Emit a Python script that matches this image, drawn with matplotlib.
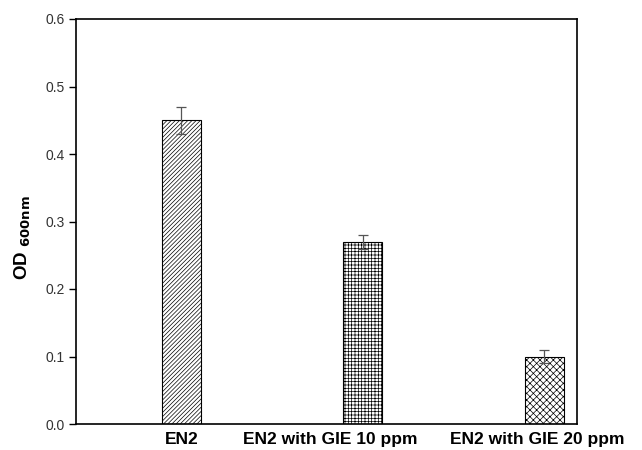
import matplotlib.pyplot as plt
import matplotlib.transforms as mtransforms

# data
categories = ["EN2", "EN2 with GIE 10 ppm", "EN2 with GIE 20 ppm"]
od600 = [0.45, 0.27, 0.10]
od600_err = [0.02, 0.01, 0.01]
hatches = ["////////", "+++++", "xxxxx"]

plt.rcParams["font.family"] = ["Liberation Sans", "DejaVu Sans"]
plt.rcParams["hatch.linewidth"] = 0.5
plt.rcParams["hatch.color"] = "#555555"

fig = plt.figure(figsize=(6.42, 4.5), dpi=100)
ax = fig.add_axes([76 / 642, 1 - 424 / 450, (577 - 76) / 642, (424 - 19) / 450])

pos = [1, 2, 3]
bars = ax.bar(pos, od600, width=0.215, color="white", edgecolor="black", linewidth=0.8)
for b, h in zip(bars, hatches):
    b.set_hatch(h)

ax.errorbar(pos, od600, yerr=od600_err, fmt="none", ecolor="#555555",
            elinewidth=0.9, capsize=3.5, capthick=0.9)

ax.set_xlim(0.42, 3.18)
ax.set_ylim(0, 0.6)
ax.set_yticks([0.0, 0.1, 0.2, 0.3, 0.4, 0.5, 0.6])
ax.set_yticklabels([f"{v:.1f}" for v in ax.get_yticks()])
ax.tick_params(axis="y", direction="out", length=5, width=1, labelsize=10,
               labelcolor="#333333", pad=3)
ax.set_xticks(pos)
ax.set_xticklabels(categories, fontsize=12.5, fontweight="bold")
ax.tick_params(axis="x", length=0, pad=6)

# nudge the long labels left so they don't collide
shifts_px = [0, -33, -7]
for lab, dx in zip(ax.get_xticklabels(), shifts_px):
    lab.set_transform(lab.get_transform() +
                      mtransforms.ScaledTranslation(dx / 100, 0, fig.dpi_scale_trans))

for s in ax.spines.values():
    s.set_linewidth(1.2)

ax.set_ylabel(r"OD $_{\mathbf{600nm}}$", fontsize=13.5, fontweight="bold")
ax.yaxis.set_label_coords(-0.086, 0.46)

fig.savefig("out.png", dpi=100)
